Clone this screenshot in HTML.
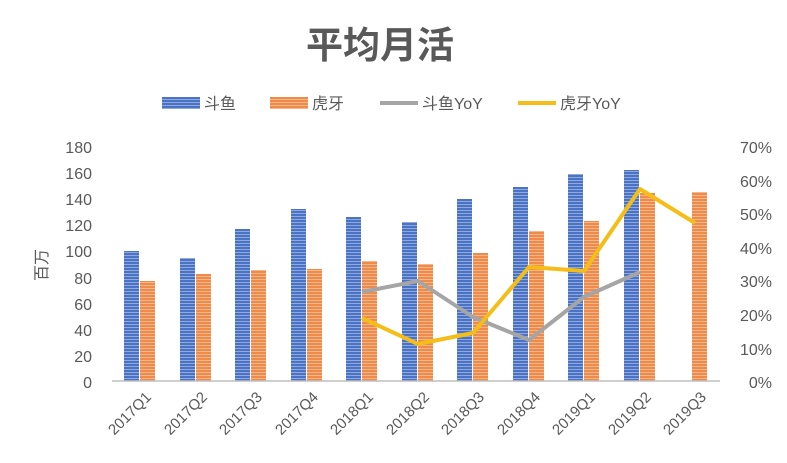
<!DOCTYPE html><html><head><meta charset="utf-8"><style>body{margin:0;background:#fff}svg{display:block;font-family:"Liberation Sans","Noto Sans CJK SC",sans-serif}</style></head><body>
<svg width="787" height="463" viewBox="0 0 787 463">
<defs>
<pattern id="pb" width="4" height="3" patternUnits="userSpaceOnUse"><rect width="4" height="3" fill="#4a73c4"/><rect width="4" height="1" fill="#8fa9e0"/></pattern>
<pattern id="po" width="4" height="3" patternUnits="userSpaceOnUse"><rect width="4" height="3" fill="#ef8a4a"/><rect width="4" height="1" fill="#f6b889"/></pattern>
</defs>
<text x="380" y="58" font-size="37" font-weight="bold" fill="#595959" text-anchor="middle">平均月活</text>
<g font-size="16" fill="#595959">
<rect x="162" y="97" width="38" height="12" fill="url(#pb)"/><text x="204" y="109">斗鱼</text>
<rect x="270" y="97" width="38" height="12" fill="url(#po)"/><text x="312" y="109">虎牙</text>
<line x1="380" y1="103" x2="418" y2="103" stroke="#a5a5a5" stroke-width="4"/><text x="422" y="109">斗鱼YoY</text>
<line x1="518" y1="103" x2="556" y2="103" stroke="#f5bd18" stroke-width="4"/><text x="560" y="109">虎牙YoY</text>
</g>
<g font-size="16" fill="#595959" text-anchor="end">
<text x="92" y="388">0</text><text x="92" y="362">20</text><text x="92" y="336">40</text><text x="92" y="310">60</text><text x="92" y="284">80</text><text x="92" y="257">100</text><text x="92" y="231">120</text><text x="92" y="205">140</text><text x="92" y="179">160</text><text x="92" y="153">180</text>
</g>
<g font-size="16" fill="#595959" text-anchor="end">
<text x="772" y="388">0%</text><text x="772" y="355">10%</text><text x="772" y="321">20%</text><text x="772" y="287">30%</text><text x="772" y="254">40%</text><text x="772" y="220">50%</text><text x="772" y="187">60%</text><text x="772" y="153">70%</text>
</g>
<text transform="translate(47,265) rotate(-90)" font-size="16" fill="#595959" text-anchor="middle">百万</text>
<g fill="url(#pb)">
<rect x="124" y="251" width="15" height="130"/><rect x="180" y="258" width="15" height="123"/><rect x="235" y="229" width="15" height="152"/><rect x="291" y="209" width="15" height="172"/>
<rect x="346" y="217" width="15" height="164"/><rect x="402" y="222" width="15" height="159"/><rect x="457" y="199" width="15" height="182"/><rect x="513" y="187" width="15" height="194"/><rect x="568" y="174" width="15" height="207"/><rect x="624" y="170" width="15" height="211"/>
</g>
<g fill="url(#po)">
<rect x="140" y="281" width="15" height="100"/><rect x="196" y="274" width="15" height="107"/><rect x="251" y="270" width="15" height="111"/><rect x="307" y="269" width="15" height="112"/>
<rect x="362" y="261" width="15" height="120"/><rect x="418" y="264" width="15" height="117"/><rect x="473" y="253" width="15" height="128"/><rect x="529" y="231" width="15" height="150"/><rect x="584" y="221" width="15" height="160"/><rect x="640" y="193" width="15" height="188"/><rect x="692" y="192" width="15" height="189"/>
</g>
<line x1="112" y1="381" x2="720" y2="381" stroke="#bfbfbf" stroke-width="1.5"/>
<polyline points="362,292 418,281 473,317 529,340 584,297 640,272" fill="none" stroke="#a5a5a5" stroke-width="4" stroke-linejoin="round"/>
<polyline points="362,318 418,344 473,333 529,267 584,271 640,189 695,223" fill="none" stroke="#f5bd18" stroke-width="4" stroke-linejoin="round"/>
<g font-size="15" fill="#595959" text-anchor="end">
<text transform="translate(152,398) rotate(-45)">2017Q1</text><text transform="translate(208,398) rotate(-45)">2017Q2</text><text transform="translate(263,398) rotate(-45)">2017Q3</text><text transform="translate(319,398) rotate(-45)">2017Q4</text><text transform="translate(374,398) rotate(-45)">2018Q1</text><text transform="translate(430,398) rotate(-45)">2018Q2</text><text transform="translate(485,398) rotate(-45)">2018Q3</text><text transform="translate(541,398) rotate(-45)">2018Q4</text><text transform="translate(596,398) rotate(-45)">2019Q1</text><text transform="translate(652,398) rotate(-45)">2019Q2</text><text transform="translate(707,398) rotate(-45)">2019Q3</text>
</g>
</svg></body></html>
